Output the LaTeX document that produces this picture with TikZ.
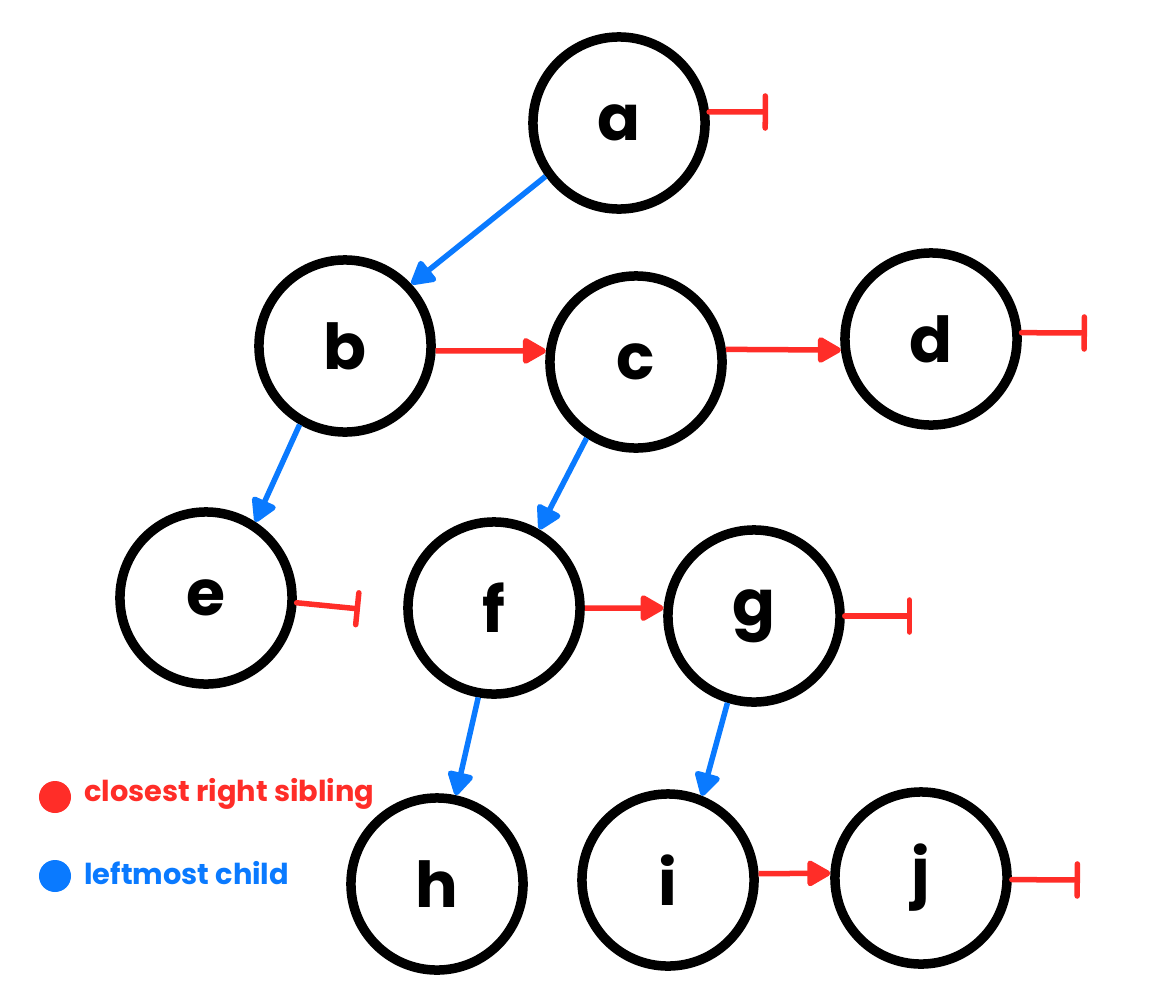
\documentclass[tikz,border=0pt]{standalone}
\usepackage{fontspec}
\setmainfont{Poppins}
\usepackage{xcolor}
\usepackage{tikz}
\usetikzlibrary{arrows.meta}
\definecolor{sibred}{RGB}{255,45,40}
\definecolor{kidblue}{RGB}{10,122,255}
\tikzset{
  vert/.style={circle,draw=black,line width=0.095cm,minimum size=1.72cm,inner sep=0pt,font=\fontsize{18}{20}\selectfont\bfseries},
  sib/.style={sibred,line width=0.055cm,-{Triangle[length=0.26cm,width=0.28cm,round]}},
  kid/.style={kidblue,line width=0.055cm,-{Triangle[length=0.26cm,width=0.28cm,round]}},
  nil/.style={sibred,line width=0.055cm,line cap=round,-{Bar[width=0.32cm,line cap=round]}}
}

\begin{document}
\begin{tikzpicture}[x=0.01cm,y=-0.01cm]
\useasboundingbox (0,0) rectangle (1173,1000);
\node[vert] (a) at (619,123) {a};
\node[vert] (b) at (345,346) {b};
\node[vert] (c) at (636,362) {c};
\node[vert] (d) at (931,339) {d};
\node[vert] (e) at (206,598) {e};
\node[vert] (f) at (494,608) {f};
\node[vert] (g) at (754,616) {g};
\node[vert] (h) at (437,884) {h};
\node[vert] (i) at (668,880) {i};
\node[vert] (j) at (921,878) {j};
% leftmost child
\draw[kid] (a.216) -- (b.43);
\draw[kid] (b.240) -- (e.57);
\draw[kid] (c.237) -- (f.60);
\draw[kid] (f.260) -- (h.78);
\draw[kid] (g.253) -- (i.68);
% closest right sibling
\draw[sib] (b.-3) -- (c.173);
\draw[sib] (c.8) -- (d.187);
\draw[sib] (f.0) -- (g.175);
\draw[sib] (i.4) -- (j.177);
% no sibling
\coordinate (aend) at (768,112);
\coordinate (dend) at (1087,333);
\coordinate (eend) at (360,609);
\coordinate (gend) at (912,616);
\coordinate (jend) at (1080,880);
\draw[nil] (a.7) -- (aend);
\draw[nil] (d.4) -- (dend);
\draw[nil] (e.-3) -- (eend);
\draw[nil] (g.0) -- (gend);
\draw[nil] (j.-1) -- (jend);
% legend
\fill[sibred] (55,797) circle (0.16cm);
\node[anchor=west,sibred,font=\fontsize{8.2}{10}\selectfont\bfseries] (redkey) at (72,794) {closest right sibling};
\fill[kidblue] (55,876) circle (0.16cm);
\node[anchor=west,kidblue,font=\fontsize{8.2}{10}\selectfont\bfseries] (bluekey) at (72,873) {leftmost child};
\end{tikzpicture}
\end{document}
